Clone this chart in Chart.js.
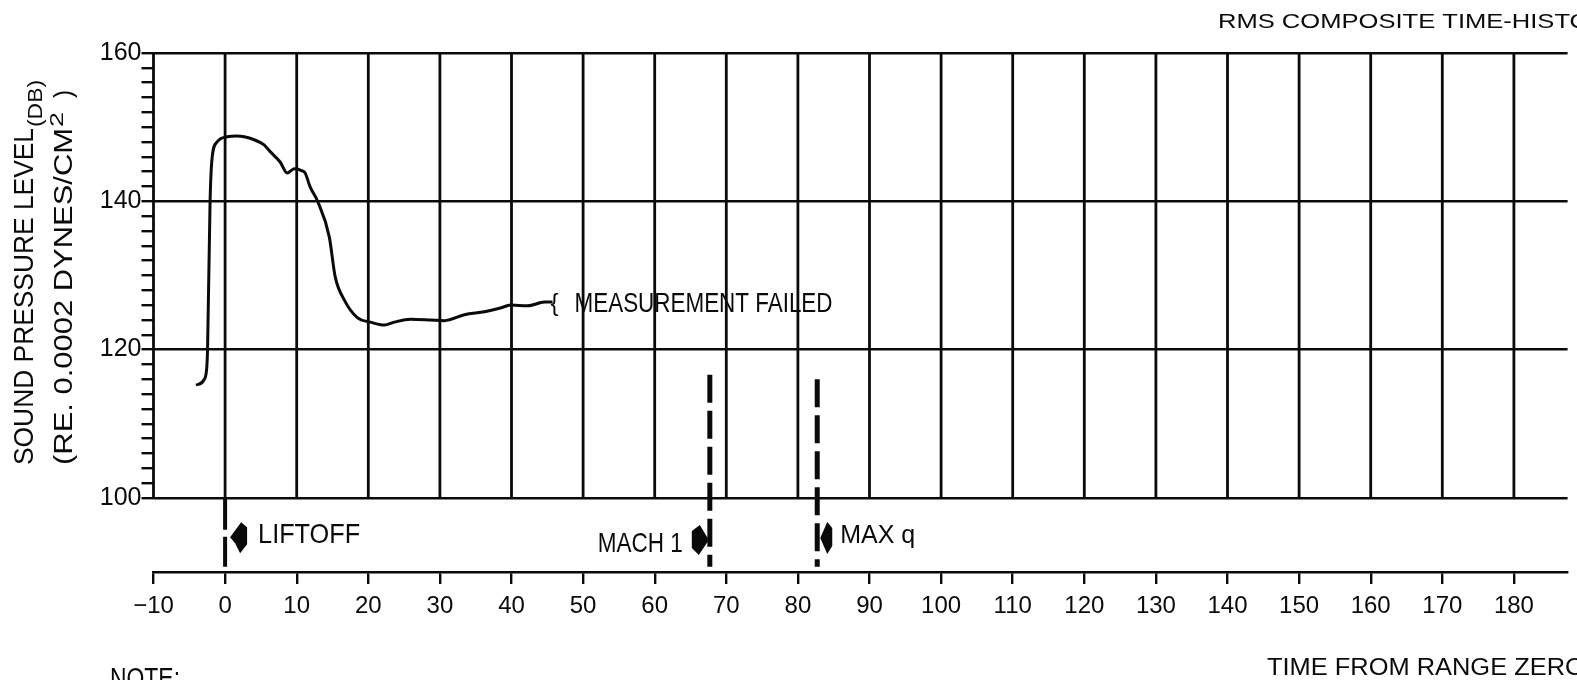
<!DOCTYPE html>
<html>
<head>
<meta charset="utf-8">
<script src="https://cdn.jsdelivr.net/npm/chart.js@4.4.1/dist/chart.umd.min.js"></script>
<style>
  html, body { margin: 0; padding: 0; background: #fff; }
  canvas { display: block; }
</style>
</head>
<body>
<canvas id="c" width="1577" height="680"></canvas>
<script>
// Sound pressure level record (dB re 0.0002 dynes/cm^2) versus time from range zero (s)
const curveTime = [-4.06, -2.9, -2.55, -2.45, -2.10, -1.82, -1.12, 0.28, 1.68, 2.66, 4.06, 5.45, 6.29,
  7.69, 8.67, 9.65, 10.77, 11.19, 11.89, 12.87, 14.55, 15.38, 16.64, 18.46, 20.28, 22.24, 23.64,
  25.87, 28.67, 30.63, 33.43, 36.22, 38.46, 39.86, 42.24, 44.62, 45.73];
const curveLevel = [115.2, 116.0, 117.7, 120.0, 139.9, 145.8, 148.0, 148.7, 148.8, 148.7, 148.3, 147.6, 146.7,
  145.3, 143.8, 144.4, 144.1, 143.8, 141.9, 140.1, 135.2, 129.8, 126.7, 124.3, 123.7, 123.3, 123.7,
  124.1, 124.0, 123.9, 124.7, 125.1, 125.6, 126.0, 125.9, 126.4, 126.4];

// Flight events marked under the record
const eventNames = ['LIFTOFF', 'MACH 1', 'MAX q'];
const eventTimes = [0, 67.7, 82.7];
const eventTops = [100, 116.6, 116.0];
const eventBottom = 90.7;

// Axis ranges and labels
const xTickValues = [-10, 0, 10, 20, 30, 40, 50, 60, 70, 80, 90, 100, 110, 120, 130, 140, 150, 160, 170, 180];
const yLabelValues = [100, 120, 140, 160];
const failedLabel = 'MEASUREMENT FAILED';

const FONT = '"Liberation Sans", Arial, "DejaVu Sans", sans-serif';
const INK = '#0a0a0a';

// Draw text with a given cap height, squeezed/stretched horizontally to a given width.
// measureStr lets the width refer to a prefix of the text (for text running off the sheet).
function fitText(ctx, text, x, baseY, cap, width, measureStr) {
  const size = cap / 0.716;
  ctx.font = size + 'px ' + FONT;
  const w = ctx.measureText(measureStr || text).width;
  const sx = width ? width / w : 1;
  ctx.save();
  ctx.translate(x, baseY);
  ctx.scale(sx, 1);
  ctx.textBaseline = 'alphabetic';
  ctx.textAlign = 'left';
  ctx.fillStyle = INK;
  ctx.fillText(text, 0, 0);
  ctx.restore();
}

// Text written bottom-to-top; x is the baseline, y the start of the text.
function fitTextUp(ctx, text, x, y, cap, width) {
  ctx.save();
  ctx.translate(x, y);
  ctx.rotate(-Math.PI / 2);
  fitText(ctx, text, 0, 0, cap, width);
  ctx.restore();
}

function poly(ctx, pts, ox, oy) {
  ctx.beginPath();
  pts.forEach((p, i) => i ? ctx.lineTo(ox + p[0], oy + p[1]) : ctx.moveTo(ox + p[0], oy + p[1]));
  ctx.closePath();
  ctx.fillStyle = INK;
  ctx.fill();
}

const sheetPlugin = {
  id: 'sheet',
  beforeDatasetsDraw(chart) {
    // vertical grid lines only span the 100-160 dB field
    const { ctx, scales: { x, y } } = chart;
    const yTop = y.getPixelForValue(160), yBot = y.getPixelForValue(100);
    ctx.save();
    ctx.strokeStyle = INK;
    ctx.lineWidth = 2.8;
    xTickValues.forEach(v => {
      const px = x.getPixelForValue(v);
      ctx.beginPath();
      ctx.moveTo(px, yTop - 1);
      ctx.lineTo(px, yBot + 1);
      ctx.stroke();
    });
    ctx.restore();
  },
  afterDatasetsDraw(chart) {
    const { ctx, scales: { x, y } } = chart;
    // event arrows and labels
    const shapes = [
      { pts: [[5, 0], [16, -15], [22, -10], [22, 7], [15, 16], [10, 6]], cy: 94.7 },
      { pts: [[-1, 0], [-10, -15], [-18, -9], [-18, 8], [-11, 15]], cy: 94.3 },
      { pts: [[3, 0], [10, -16], [15, -10], [15, 8], [10, 16]], cy: 94.6 }
    ];
    eventTimes.forEach((t, i) => {
      const px = x.getPixelForValue(t);
      poly(ctx, shapes[i].pts, px, y.getPixelForValue(shapes[i].cy));
    });
    const lx = eventTimes.map(t => x.getPixelForValue(t));
    fitText(ctx, eventNames[0], lx[0] + 33, y.getPixelForValue(95.3) + 10, 20, 102);
    fitText(ctx, eventNames[1], lx[1] - 112, y.getPixelForValue(94.0) + 10, 20, 85);
    fitText(ctx, eventNames[2], lx[2] + 23, y.getPixelForValue(95.1) + 9, 18, 75);

    // break mark and note at the end of the record
    const n = curveTime.length - 1;
    const ex = x.getPixelForValue(curveTime[n]);
    const ey = y.getPixelForValue(curveLevel[n]);
    fitText(ctx, '{', ex - 2, ey + 9, 17, 8);
    fitText(ctx, failedLabel, ex + 22, ey + 10, 20, 258);
  },
  afterDraw(chart) {
    const { ctx } = chart;
    // sheet title and captions
    fitText(ctx, 'RMS COMPOSITE TIME-HISTORY', 1218, 28, 15, 352, 'RMS COMPOSITE TIME-HIST');
    fitText(ctx, 'TIME FROM RANGE ZERO', 1267, 675, 17, 298, 'TIME FROM RANGE ZER');
    fitText(ctx, 'NOTE:', 110, 688, 21, 70);
    // vertical axis title
    fitTextUp(ctx, 'SOUND PRESSURE LEVEL', 33, 465, 20, 337);
    fitTextUp(ctx, '(DB)', 42, 127, 15, 47);
    fitTextUp(ctx, '(RE. 0.0002 DYNES/CM', 72, 465, 19, 337);
    fitTextUp(ctx, '2', 63, 127, 13, 15);
    fitTextUp(ctx, ')', 72, 98, 19, 8);
  }
};

const datasets = [{
  data: curveTime.map((t, i) => ({ x: t, y: curveLevel[i] })),
  borderColor: INK,
  borderWidth: 3,
  pointRadius: 0,
  cubicInterpolationMode: 'monotone',
  fill: false
}];
eventTimes.forEach((t, i) => {
  datasets.push({
    data: [{ x: t, y: eventTops[i] }, { x: t, y: eventBottom }],
    borderColor: INK,
    borderWidth: i === 0 ? 4 : 5,
    borderDash: i === 0 ? [32, 7] : [28, 8],
    pointRadius: 0,
    fill: false
  });
});

new Chart(document.getElementById('c'), {
  type: 'line',
  data: { datasets },
  options: {
    responsive: false,
    animation: false,
    events: [],
    layout: { padding: { top: 53, right: 9.4, left: 0, bottom: 0 } },
    plugins: { legend: { display: false }, tooltip: { enabled: false } },
    scales: {
      x: {
        type: 'linear',
        min: -10,
        max: 187.5,
        afterBuildTicks: s => { s.ticks = xTickValues.map(v => ({ value: v })); },
        afterFit: s => { s.height = 108; },
        ticks: {
          color: INK,
          font: { family: FONT, size: 24 },
          padding: 8,
          maxRotation: 0,
          autoSkip: false,
          callback: v => v < 0 ? '\u2212' + Math.abs(v) : String(v)
        },
        grid: { drawOnChartArea: false, color: INK, lineWidth: 2.4, tickLength: 12 },
        border: { display: true, color: INK, width: 2.4 }
      },
      y: {
        min: 90,
        max: 160,
        afterBuildTicks: s => {
          const t = [];
          for (let v = 100; v <= 160; v += 2) t.push({ value: v });
          s.ticks = t;
        },
        afterFit: s => { s.width = 153.5; },
        ticks: {
          color: INK,
          font: { family: FONT, size: 25 },
          padding: 0,
          autoSkip: false,
          callback: v => yLabelValues.includes(v) ? String(v) : ''
        },
        grid: {
          color: c => (c.tick && yLabelValues.includes(c.tick.value)) ? INK : 'rgba(0,0,0,0)',
          tickColor: INK,
          lineWidth: 2.4,
          tickLength: 12
        },
        border: { display: false }
      }
    }
  },
  plugins: [sheetPlugin]
});
</script>
</body>
</html>
